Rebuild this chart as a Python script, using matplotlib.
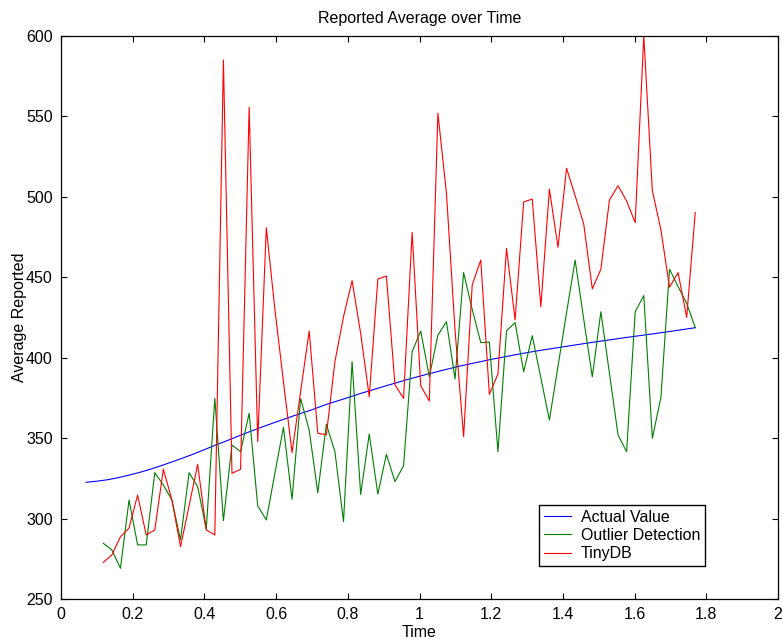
import matplotlib
matplotlib.use("Agg")
import matplotlib.pyplot as plt
import numpy as np

plt.rcParams['font.family'] = ['Liberation Sans', 'DejaVu Sans']

# ---- data ----
t_start = 0.118
t_step = 0.02393
n_pts = 70

tinydb = [272.8, 277.4, 288.7, 294.0, 314.6, 289.8, 292.9, 330.6, 311.5, 282.5,
          308.0, 333.7, 292.9, 289.8, 584.9, 328.1, 330.6, 555.5, 347.8, 480.7,
          430.0, 385.0, 340.9, 378.8, 416.5, 353.0, 352.0, 397.5, 425.4, 447.8,
          415.0, 375.7, 448.8, 450.7, 383.0, 374.7, 477.8, 382.5, 373.0, 551.8,
          502.1, 417.0, 350.9, 445.1, 460.6, 377.2, 389.8, 467.9, 423.4, 496.7,
          498.5, 431.6, 504.6, 468.5, 517.6, 500.6, 483.0, 442.7, 454.9, 497.9,
          506.8, 497.3, 483.8, 600.0, 503.7, 479.3, 443.7, 452.8, 425.0, 490.1]

outlier = [284.6, 280.5, 269.1, 311.5, 283.6, 283.6, 328.5, 320.8, 311.5, 286.7,
           328.5, 319.8, 293.3, 374.7, 298.7, 345.7, 341.5, 365.4, 307.8, 299.1,
           328.1, 356.7, 311.9, 374.5, 355.0, 316.0, 358.6, 341.5, 298.1, 397.5,
           315.0, 352.5, 315.2, 339.9, 322.9, 332.8, 403.7, 416.5, 388.1, 414.0,
           422.3, 386.7, 452.8, 430.0, 409.3, 409.6, 341.5, 416.7, 421.7, 391.2,
           413.6, 387.5, 361.2, 394.6, 427.9, 460.6, 423.8, 388.1, 428.5, 390.2,
           351.9, 341.5, 428.5, 438.5, 349.9, 375.3, 454.9, 444.1, 433.7, 418.6]

actual_t = [0.07, 0.10, 0.13, 0.16, 0.19, 0.22, 0.25, 0.28, 0.31, 0.34,
            0.37, 0.40, 0.43, 0.47, 0.50, 0.53, 0.56, 0.60, 0.65, 0.70,
            0.74, 0.79, 0.83, 0.88, 0.93, 0.97, 1.02, 1.07, 1.11, 1.16,
            1.20, 1.25, 1.29, 1.34, 1.39, 1.43, 1.48, 1.53, 1.57, 1.62,
            1.66, 1.71, 1.77]
actual = [322.5, 323.2, 324.1, 325.4, 327.0, 328.7, 330.7, 332.9, 335.2, 337.6,
          340.1, 342.8, 345.5, 349.0, 351.7, 354.3, 356.8, 360.0, 363.9, 367.6,
          370.9, 374.4, 377.3, 380.7, 384.0, 386.6, 389.6, 392.4, 394.6, 397.0,
          398.9, 401.0, 402.7, 404.6, 406.3, 407.7, 409.4, 411.0, 412.3, 413.8,
          415.0, 416.6, 418.6]

x_ticks = [0, 0.2, 0.4, 0.6, 0.8, 1.0, 1.2, 1.4, 1.6, 1.8, 2.0]
x_tick_labels = ['0', '0.2', '0.4', '0.6', '0.8', '1', '1.2', '1.4', '1.6', '1.8', '2']
y_ticks = [250, 300, 350, 400, 450, 500, 550, 600]

series_names = ['Actual Value', 'Outlier Detection', 'TinyDB']
series_colors = ['#0000ff', '#008000', '#ff0000']

t = t_start + t_step * np.arange(n_pts)

W, H = 783, 642
fig = plt.figure(figsize=(W / 100, H / 100), dpi=100)
left, right, top, bottom = 61, 778, 35.7, 599
ax = fig.add_axes([left / W, 1 - bottom / H, (right - left) / W, (bottom - top) / H])

lw = 0.8
ax.plot(actual_t, actual, color=series_colors[0], lw=lw, label=series_names[0])
ax.plot(t, outlier, color=series_colors[1], lw=lw, label=series_names[1])
ax.plot(t, tinydb, color=series_colors[2], lw=lw, label=series_names[2])

ax.set_xlim(0, 2)
ax.set_ylim(250, 600)
ax.set_xticks(x_ticks)
ax.set_xticklabels(x_tick_labels)
ax.set_yticks(y_ticks)

fs = 11.5
ax.tick_params(direction='in', length=4.5, width=0.8, top=True, right=True,
               labelsize=fs, pad=6)
for s in ax.spines.values():
    s.set_linewidth(0.9)

ax.set_title('Reported Average over Time', fontsize=fs, pad=9)
ax.set_xlabel('Time', fontsize=fs, labelpad=2)
ax.set_ylabel('Average Reported', fontsize=fs, labelpad=-0.5)

leg = ax.legend(loc='upper left', bbox_to_anchor=(0.667, 0.167), borderaxespad=0,
                fontsize=fs, fancybox=False, framealpha=1, edgecolor='black',
                handlelength=1.7, handletextpad=0.6, labelspacing=0.2,
                borderpad=0.3)
leg.get_frame().set_linewidth(1.0)

fig.savefig('out.png', dpi=100)
